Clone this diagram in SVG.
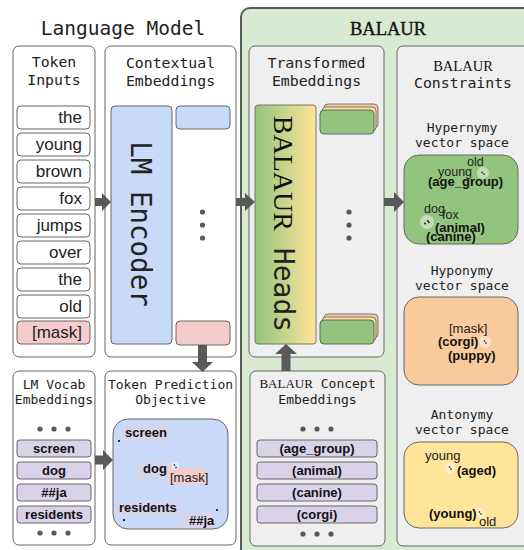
<svg xmlns="http://www.w3.org/2000/svg" width="524" height="550" viewBox="0 0 524 550">
<defs>
<linearGradient id="headsGrad" x1="0" y1="0" x2="1" y2="0">
<stop offset="0" stop-color="#93c47d"/>
<stop offset="1" stop-color="#ffe599"/>
</linearGradient>
<style>
.mono{font-family:"DejaVu Sans Mono",monospace;fill:#222}
.serif{font-family:"Liberation Serif",serif;fill:#111}
.sans{font-family:"Liberation Sans",Arial,sans-serif;fill:#222}
.b{font-weight:bold;fill:#111}
.panelW{fill:#ffffff;stroke:#666;stroke-width:1}
.panelG{fill:#efefef;stroke:#666;stroke-width:1}
.tok{fill:#ffffff;stroke:#666;stroke-width:1}
.pur{fill:#d9d2e9;stroke:#666;stroke-width:1}
.arrow{fill:#595959}
.dot{fill:#595959}
.halo{fill:#ffffff;fill-opacity:0.45}
.pt{fill:#000}
.t1{font-size:14.8px;text-anchor:middle}
.t2{font-size:13px;text-anchor:middle}
.tw{font-size:17px;text-anchor:end}
.pl{font-size:13px;text-anchor:middle}
.lab{fill:#d9d2e9;fill-opacity:0.85}
.sm{font-size:12.5px}
</style>
</defs>
<rect width="524" height="550" fill="#ffffff"/>

<g id="balaur-frame">
<rect x="241" y="8" width="300" height="560" rx="9" fill="#d9ead3" stroke="#595959" stroke-width="2"/>
<text class="serif" x="388" y="35" font-size="18.5" text-anchor="middle" stroke="#111" stroke-width="0.35">BALAUR</text>
</g>
<text class="mono" x="123" y="35" font-size="19.5" text-anchor="middle">Language Model</text>

<g id="token-inputs">
<rect class="panelW" x="13" y="46" width="82" height="311" rx="6"/>
<text class="mono t1" x="54" y="67">Token</text>
<text class="mono t1" x="54" y="85">Inputs</text>
<rect class="tok" x="17" y="106" width="73" height="23" rx="4"/>
<text class="sans tw" x="82" y="123">the</text>
<rect class="tok" x="17" y="133" width="73" height="23" rx="4"/>
<text class="sans tw" x="82" y="150">young</text>
<rect class="tok" x="17" y="160" width="73" height="23" rx="4"/>
<text class="sans tw" x="82" y="177">brown</text>
<rect class="tok" x="17" y="187" width="73" height="23" rx="4"/>
<text class="sans tw" x="82" y="204">fox</text>
<rect class="tok" x="17" y="214" width="73" height="23" rx="4"/>
<text class="sans tw" x="82" y="231">jumps</text>
<rect class="tok" x="17" y="241" width="73" height="23" rx="4"/>
<text class="sans tw" x="82" y="258">over</text>
<rect class="tok" x="17" y="268" width="73" height="23" rx="4"/>
<text class="sans tw" x="82" y="285">the</text>
<rect class="tok" x="17" y="295" width="73" height="23" rx="4"/>
<text class="sans tw" x="82" y="312">old</text>
<rect x="17" y="321" width="73" height="23" rx="4" fill="#f4cccc" stroke="#666"/>
<text class="sans tw" x="82" y="338" font-size="16.5">[mask]</text>
</g>

<g id="contextual-embeddings">
<rect class="panelW" x="105" y="46" width="131" height="311" rx="6"/>
<text class="mono t1" x="170.5" y="68">Contextual</text>
<text class="mono t1" x="170.5" y="86">Embeddings</text>
<rect x="111" y="106" width="61" height="238" rx="4" fill="#c9daf8" stroke="#666"/>
<text class="mono" transform="translate(141,224) rotate(90)" x="0" y="10" font-size="27.5" text-anchor="middle">LM Encoder</text>
<rect x="176" y="106" width="54" height="23" rx="4" fill="#c9daf8" stroke="#666"/>
<circle class="dot" cx="202.5" cy="212" r="2.6"/>
<circle class="dot" cx="202.5" cy="225" r="2.6"/>
<circle class="dot" cx="202.5" cy="238" r="2.6"/>
<rect x="176" y="321" width="54" height="24" rx="4" fill="#f4cccc" stroke="#666"/>
</g>

<g id="transformed-embeddings">
<rect class="panelG" x="249" y="46" width="135" height="311" rx="6"/>
<text class="mono t1" x="316.5" y="68">Transformed</text>
<text class="mono t1" x="316.5" y="86">Embeddings</text>
<rect x="255" y="105" width="61" height="239" rx="3" fill="url(#headsGrad)" stroke="#777"/>
<text transform="translate(284,224) rotate(90)" x="0" y="10" font-size="28" text-anchor="middle"><tspan class="serif">BALAUR</tspan><tspan class="mono"> Heads</tspan></text>
<rect x="324" y="104" width="54" height="24" rx="4" fill="#f9cb9c" stroke="#777"/>
<rect x="322" y="107" width="54" height="24" rx="4" fill="#ffe599" stroke="#777"/>
<rect x="320" y="110" width="54" height="24" rx="4" fill="#93c47d" stroke="#666"/>
<circle class="dot" cx="349" cy="212" r="2.6"/>
<circle class="dot" cx="349" cy="225" r="2.6"/>
<circle class="dot" cx="349" cy="238" r="2.6"/>
<rect x="324" y="314" width="54" height="24" rx="4" fill="#f9cb9c" stroke="#777"/>
<rect x="322" y="317" width="54" height="24" rx="4" fill="#ffe599" stroke="#777"/>
<rect x="320" y="320" width="54" height="24" rx="4" fill="#93c47d" stroke="#666"/>
</g>

<g id="balaur-constraints">
<rect class="panelG" x="397" y="46" width="140" height="500" rx="6"/>
<text class="serif" x="463" y="71" font-size="14.5" text-anchor="middle">BALAUR</text>
<text class="mono t1" x="463" y="88">Constraints</text>

<text class="mono t2" x="462" y="132">Hypernymy</text>
<text class="mono t2" x="462" y="147">vector space</text>
<rect x="404" y="155" width="114" height="89" rx="15" fill="#93c47d" stroke="#666"/>
<circle class="halo" cx="483" cy="173" r="6"/>
<circle class="pt" cx="482" cy="172.5" r="0.8"/>
<circle class="pt" cx="484" cy="174" r="0.8"/>
<text class="sans sm" x="467" y="166">old</text>
<text class="sans sm" x="438" y="176">young</text>
<text class="sans b" x="428" y="186" font-size="13">(age_group)</text>
<circle class="halo" cx="427" cy="222" r="7"/>
<circle class="pt" cx="425" cy="223.5" r="0.9"/>
<circle class="pt" cx="428" cy="221" r="0.9"/>
<circle class="pt" cx="429" cy="222.5" r="0.8"/>
<text class="sans sm" x="424" y="213">dog</text>
<text class="sans sm" x="442" y="219">fox</text>
<text class="sans b" x="435" y="232" font-size="13">(animal)</text>
<text class="sans b" x="426" y="241" font-size="13">(canine)</text>

<text class="mono t2" x="462" y="275">Hyponymy</text>
<text class="mono t2" x="462" y="290">vector space</text>
<rect x="404" y="297" width="114" height="88" rx="15" fill="#f9cb9c" stroke="#666"/>
<circle class="halo" cx="485" cy="342" r="6"/>
<circle class="pt" cx="484.5" cy="341" r="0.8"/>
<circle class="pt" cx="486" cy="343" r="0.8"/>
<text class="sans" x="449" y="333" font-size="13">[mask]</text>
<text class="sans b" x="438" y="346" font-size="13">(corgi)</text>
<text class="sans b" x="448" y="360" font-size="13">(puppy)</text>

<text class="mono t2" x="462" y="419">Antonymy</text>
<text class="mono t2" x="462" y="434">vector space</text>
<rect x="404" y="442" width="114" height="86" rx="15" fill="#ffe599" stroke="#666"/>
<circle class="halo" cx="450" cy="468" r="5.5"/>
<circle class="pt" cx="449.5" cy="467" r="0.8"/>
<circle class="pt" cx="451" cy="469" r="0.8"/>
<text class="sans" x="425" y="460" font-size="13">young</text>
<text class="sans b" x="457" y="475" font-size="13">(aged)</text>
<circle class="halo" cx="480" cy="513" r="5"/>
<circle class="pt" cx="479.5" cy="512" r="0.8"/>
<circle class="pt" cx="481" cy="514" r="0.8"/>
<text class="sans b" x="429" y="518" font-size="13">(young)</text>
<text class="sans" x="479" y="526" font-size="13">old</text>
</g>

<g id="lm-vocab-embeddings">
<rect class="panelW" x="13" y="371" width="82" height="174" rx="6"/>
<text class="mono t2" x="54" y="389">LM Vocab</text>
<text class="mono t2" x="54" y="404">Embeddings</text>
<circle class="dot" cx="40" cy="429" r="2.6"/>
<circle class="dot" cx="54" cy="429" r="2.6"/>
<circle class="dot" cx="68" cy="429" r="2.6"/>
<rect class="pur" x="17" y="440" width="74" height="17" rx="3"/>
<text class="sans b pl" x="54" y="453">screen</text>
<rect class="pur" x="17" y="462" width="74" height="17" rx="3"/>
<text class="sans b pl" x="54" y="475">dog</text>
<rect class="pur" x="17" y="484" width="74" height="17" rx="3"/>
<text class="sans b pl" x="54" y="497">##ja</text>
<rect class="pur" x="17" y="506" width="74" height="17" rx="3"/>
<text class="sans b pl" x="54" y="519">residents</text>
<circle class="dot" cx="40" cy="533" r="2.6"/>
<circle class="dot" cx="54" cy="533" r="2.6"/>
<circle class="dot" cx="68" cy="533" r="2.6"/>
</g>

<g id="token-prediction-objective">
<rect class="panelW" x="105" y="371" width="131" height="174" rx="6"/>
<text class="mono t2" x="170.5" y="389">Token Prediction</text>
<text class="mono t2" x="170.5" y="404">Objective</text>
<rect x="113" y="419" width="115" height="110" rx="15" fill="#c9daf8" stroke="#666"/>
<rect class="lab" x="122" y="425" width="49" height="16"/>
<text class="sans b" x="125" y="437" font-size="13">screen</text>
<circle class="pt" cx="119" cy="441" r="1.1"/>
<rect class="lab" x="137" y="462" width="35" height="16"/>
<text class="sans b" x="143" y="473" font-size="13">dog</text>
<rect x="168" y="468" width="38" height="16" fill="#f4cccc"/>
<text class="sans" x="170" y="482" font-size="13">[mask]</text>
<circle class="halo" cx="175" cy="466" r="4"/>
<circle class="pt" cx="174.5" cy="465" r="0.8"/>
<circle class="pt" cx="176" cy="467.5" r="0.8"/>
<rect class="lab" x="117" y="502" width="62" height="14"/>
<text class="sans b" x="119" y="512" font-size="13">residents</text>
<circle class="pt" cx="124" cy="520" r="1.1"/>
<rect class="lab" x="180" y="513" width="35" height="15"/>
<text class="sans b" x="189" y="525" font-size="13">##ja</text>
<circle class="pt" cx="217" cy="510" r="1.1"/>
</g>

<g id="balaur-concept-embeddings">
<rect class="panelG" x="250" y="371" width="135" height="175" rx="6"/>
<text x="317.5" y="388" font-size="13" text-anchor="middle"><tspan class="serif">BALAUR</tspan><tspan class="mono"> Concept</tspan></text>
<text class="mono t2" x="317.5" y="404">Embeddings</text>
<circle class="dot" cx="303" cy="429" r="2.6"/>
<circle class="dot" cx="317" cy="429" r="2.6"/>
<circle class="dot" cx="331" cy="429" r="2.6"/>
<rect class="pur" x="257" y="440" width="120" height="17" rx="3"/>
<text class="sans b pl" x="317" y="453">(age_group)</text>
<rect class="pur" x="257" y="462" width="120" height="17" rx="3"/>
<text class="sans b pl" x="317" y="475">(animal)</text>
<rect class="pur" x="257" y="484" width="120" height="17" rx="3"/>
<text class="sans b pl" x="317" y="497">(canine)</text>
<rect class="pur" x="257" y="506" width="120" height="17" rx="3"/>
<text class="sans b pl" x="317" y="519">(corgi)</text>
<circle class="dot" cx="303" cy="534" r="2.6"/>
<circle class="dot" cx="317" cy="534" r="2.6"/>
<circle class="dot" cx="331" cy="534" r="2.6"/>
</g>

<g id="connectors">
<polygon class="arrow" points="95,198 102,198 102,193 111,202 102,211 102,206 95,206"/>
<polygon class="arrow" points="236,198 245,198 245,193 255,202 245,211 245,206 236,206"/>
<polygon class="arrow" points="384,198 394,198 394,192 404,202 394,212 394,206 384,206"/>
<polygon class="arrow" points="198,345 207,345 207,362 213,362 202.5,372 192,362 198,362"/>
<polygon class="arrow" points="95,455.5 103,455.5 103,450 113,460 103,470 103,464.5 95,464.5"/>
<polygon class="arrow" points="281.5,371 290.5,371 290.5,354 297,354 286,344 275,354 281.5,354"/>
</g>
</svg>
